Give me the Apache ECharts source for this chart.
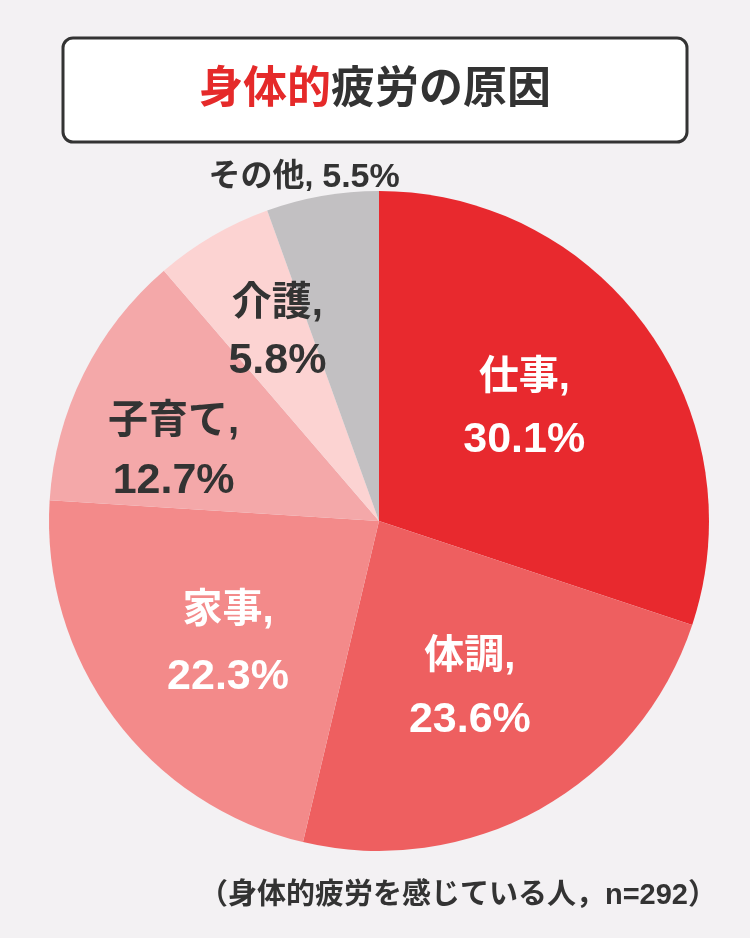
<!DOCTYPE html>
<html><head><meta charset="utf-8">
<script src="https://cdn.jsdelivr.net/npm/echarts@6/dist/echarts.min.js"></script>
<style>html,body{margin:0;padding:0;background:#f3f1f3;}#c{width:750px;height:938px;}</style>
</head><body><div id="c"></div>
<script>
const categories = ['仕事', '体調', '家事', '子育て', '介護', 'その他'];
const values = [30.1, 23.6, 22.3, 12.7, 5.8, 5.5];
const colors = ['#e8292e', '#ee5f60', '#f38a8a', '#f4a8a9', '#fcd3d2', '#c2c0c2'];
const labelColors = ['#fff', '#fff', '#fff', '#333', '#333', '#333'];
const labelOffsets = [[9, -14], [9, 21], [-16, 23], [-55, 5], [-17, -43], [-46, -178]];
const labelLineHeights = [62, 63, 66, 59, 57, 40];

const FONT = "'Liberation Sans', 'Noto Sans CJK JP', sans-serif";
const chart = echarts.init(document.getElementById('c'));
const data = categories.map((n, i) => {
  const isOther = i === 5;
  const lh = labelLineHeights[i];
  const c = labelColors[i];
  return {
    name: n, value: values[i],
    itemStyle: { color: colors[i] },
    label: {
      color: c,
      offset: labelOffsets[i],
      lineHeight: lh,
      formatter: isOther ? '{o|{b}, }{p|{c}%}' : '{n|{b},}\n{v|{c}%}',
      rich: {
        n: { fontSize: 40, lineHeight: lh, color: c, fontWeight: 'bold', fontFamily: FONT },
        v: { fontSize: 43, lineHeight: lh, color: c, fontWeight: 'bold', fontFamily: FONT },
        o: { fontSize: 32, lineHeight: lh, color: c, fontWeight: 'bold', fontFamily: FONT },
        p: { fontSize: 34, lineHeight: lh, color: c, fontWeight: 'bold', fontFamily: FONT }
      }
    }
  };
});
chart.setOption({
  backgroundColor: '#f3f1f3',
  animation: false,
  graphic: [{
    type: 'rect',
    shape: { x: 63, y: 38, width: 624, height: 104, r: 10 },
    style: { fill: '#fff', stroke: '#333', lineWidth: 3 },
    z: -1
  }],
  title: [{
    text: '{r|身体的}{k|疲労の原因}',
    left: 'center', top: 64,
    textStyle: {
      rich: {
        r: { color: '#e52a2a', fontSize: 44, fontWeight: 'bold', fontFamily: FONT },
        k: { color: '#333', fontSize: 44, fontWeight: 'bold', fontFamily: FONT }
      }
    }
  }, {
    text: '（身体的疲労を感じている人，n=292）',
    right: 28, top: 876,
    textStyle: { color: '#333', fontSize: 29, fontWeight: 'bold', fontFamily: FONT }
  }],
  series: [{
    type: 'pie',
    center: [379, 521],
    radius: [0, 330],
    startAngle: 90,
    clockwise: true,
    silent: true,
    label: {
      show: true, position: 'inside',
      fontWeight: 'bold', fontFamily: FONT, align: 'center'
    },
    labelLine: { show: false },
    itemStyle: { borderWidth: 0 },
    emphasis: { disabled: true },
    data: data
  }]
});
</script></body></html>
